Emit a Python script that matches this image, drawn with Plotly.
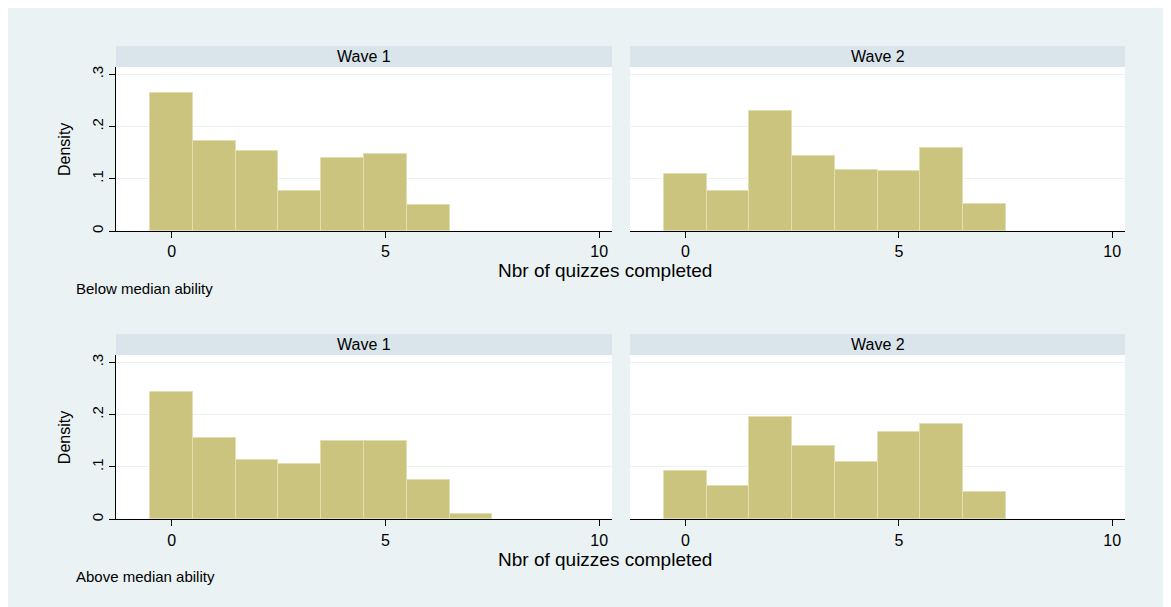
import plotly.graph_objects as go

# ---- data (densities) ----
bins_w1 = [0, 1, 2, 3, 4, 5, 6]
bins_w1b = [0, 1, 2, 3, 4, 5, 6, 7]
bins_w2 = [0, 1, 2, 3, 4, 5, 6, 7]

below_wave1 = [0.264, 0.173, 0.153, 0.077, 0.139, 0.147, 0.050]
below_wave2 = [0.110, 0.076, 0.230, 0.144, 0.117, 0.114, 0.158, 0.052]
above_wave1 = [0.243, 0.156, 0.114, 0.105, 0.150, 0.150, 0.075, 0.010]
above_wave2 = [0.093, 0.064, 0.195, 0.141, 0.110, 0.167, 0.182, 0.052]

panel_titles = ["Wave 1", "Wave 2"]
row_notes = ["Below median ability", "Above median ability"]
x_title = "Nbr of quizzes completed"
y_title = "Density"
x_ticks = [0, 5, 10]
y_ticks = [0, 0.1, 0.2, 0.3]
y_ticklabels = ["0", ".1", ".2", ".3"]

# ---- styling ----
W, H = 1171, 607
OFF = 8  # page body margin
BG = "#EAF2F3"
STRIP = "#D9E5EA"
BAR = "#CBC47F"
BAR_LINE = "#E3DEB0"
GRID = "#ECF2F3"
FONT = "Liberation Sans, Arial, sans-serif"

def px_x(p):
    return (p - OFF) / W

def px_y(p):
    return 1 - (p - OFF) / H

col_px = [(116, 612), (630, 1125)]
row_px = [(67, 231), (355, 519.3)]
strip_px = [(46, 67), (334, 355)]
xrange_ = [-1.3, 10.3]
yrange_ = [0, 0.314]

fig = go.Figure()

data = [[(bins_w1, below_wave1), (bins_w2, below_wave2)],
        [(bins_w1b, above_wave1), (bins_w2, above_wave2)]]

shapes = []
annotations = []

idx = 0
for r in range(2):
    for c in range(2):
        idx += 1
        xa = "x" if idx == 1 else f"x{idx}"
        ya = "y" if idx == 1 else f"y{idx}"
        xkey = "xaxis" if idx == 1 else f"xaxis{idx}"
        ykey = "yaxis" if idx == 1 else f"yaxis{idx}"
        bins, vals = data[r][c]
        fig.add_trace(go.Bar(x=bins, y=vals, width=1, marker=dict(color=BAR, line=dict(color=BAR_LINE, width=1)),
                             xaxis=xa, yaxis=ya, showlegend=False))
        x0p, x1p = col_px[c]
        y0p, y1p = row_px[r]
        fig.layout[xkey] = dict(domain=[px_x(x0p), px_x(x1p)], range=xrange_, anchor=ya,
                                tickvals=x_ticks, ticks="outside", ticklen=6, tickcolor="black",
                                showline=True, linecolor="black", linewidth=1, showgrid=False,
                                zeroline=False, tickfont=dict(family=FONT, size=16, color="black"),
                                fixedrange=True)
        fig.layout[ykey] = dict(domain=[px_y(y1p), px_y(y0p)], range=yrange_, anchor=xa,
                                tickvals=y_ticks, ticktext=y_ticklabels,
                                showgrid=True, gridcolor=GRID, gridwidth=1, zeroline=False,
                                showline=(c == 0), linecolor="black", linewidth=1,
                                ticks="outside" if c == 0 else "", ticklen=6, tickcolor="black",
                                showticklabels=(c == 0), tickangle=-90,
                                tickfont=dict(family=FONT, size=15, color="black"), fixedrange=True)
        # white plot area
        shapes.append(dict(type="rect", xref="paper", yref="paper", x0=px_x(x0p), x1=px_x(x1p),
                           y0=px_y(y1p), y1=px_y(y0p), fillcolor="white", line=dict(width=0), layer="below"))
        # strip
        s0, s1 = strip_px[r]
        shapes.append(dict(type="rect", xref="paper", yref="paper", x0=px_x(x0p), x1=px_x(x1p),
                           y0=px_y(s1), y1=px_y(s0), fillcolor=STRIP, line=dict(width=0), layer="below"))
        annotations.append(dict(text=panel_titles[c], xref="paper", yref="paper",
                                x=px_x((x0p + x1p) / 2), y=px_y((s0 + s1) / 2),
                                xanchor="center", yanchor="middle", showarrow=False,
                                font=dict(family=FONT, size=16, color="black")))
    # row-level annotations
    y0p, y1p = row_px[r]
    annotations.append(dict(text=y_title, xref="paper", yref="paper", x=px_x(64), y=px_y((y0p + y1p) / 2),
                            textangle=-90, xanchor="center", yanchor="middle", showarrow=False,
                            font=dict(family=FONT, size=16, color="black")))
    annotations.append(dict(text=x_title, xref="paper", yref="paper", x=px_x(605), y=px_y(y1p + 40),
                            xanchor="center", yanchor="middle", showarrow=False, borderpad=0,
                            font=dict(family=FONT, size=19, color="black")))
    annotations.append(dict(text=row_notes[r], xref="paper", yref="paper", x=px_x(75), y=px_y(y1p + 57),
                            xanchor="left", yanchor="middle", showarrow=False, borderpad=0,
                            font=dict(family=FONT, size=15, color="black")))

fig.update_layout(width=W, height=H, margin=dict(l=0, r=0, t=0, b=0, autoexpand=False),
                  paper_bgcolor=BG, plot_bgcolor="rgba(0,0,0,0)", bargap=0,
                  shapes=shapes, annotations=annotations, showlegend=False)

fig.write_html("out.html")
